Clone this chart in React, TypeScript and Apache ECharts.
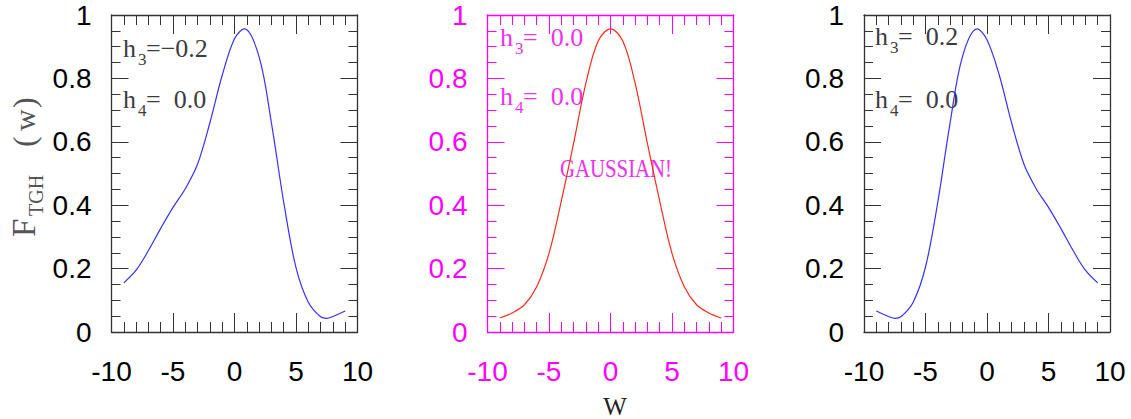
import { useEffect, useRef } from "react";
import * as echarts from "echarts";

// Tick labels
const X_TICKS = [-10, -5, 0, 5, 10];
const Y_TICKS = [0, 0.2, 0.4, 0.6, 0.8, 1];

// Left panel: h3 = -0.2, h4 = 0.0
const W_LEFT = [-9, -8, -7, -6, -5, -4, -3, -2, -1, 0, 0.8, 2, 3, 4, 5, 6, 7, 7.5, 8, 9];
const F_LEFT = [0.155, 0.195, 0.257, 0.327, 0.393, 0.452, 0.53, 0.66, 0.81, 0.925, 0.956, 0.868, 0.66, 0.41, 0.203, 0.094, 0.048, 0.043, 0.049, 0.066];

// Middle panel: h3 = 0.0, h4 = 0.0 (pure Gaussian)
const W_MID = [-9, -8, -7, -6, -5, -4, -3, -2, -1, 0, 1, 2, 3, 4, 5, 6, 7, 8, 9];
const F_MID = [0.044, 0.06, 0.086, 0.143, 0.248, 0.413, 0.595, 0.785, 0.918, 0.956, 0.918, 0.785, 0.595, 0.413, 0.248, 0.143, 0.086, 0.06, 0.044];

// Right panel: h3 = 0.2, h4 = 0.0
const W_RIGHT = [-9, -8, -7.5, -7, -6, -5, -4, -3, -2, -0.8, 0, 1, 2, 3, 4, 5, 6, 7, 8, 9];
const F_RIGHT = [0.066, 0.049, 0.043, 0.048, 0.094, 0.205, 0.41, 0.66, 0.868, 0.956, 0.922, 0.81, 0.66, 0.53, 0.452, 0.393, 0.327, 0.257, 0.195, 0.155];

const H3_LABELS = ["=\u22120.2", "=  0.0", "=  0.2"];
const H4_LABELS = ["=  0.0", "=  0.0", "=  0.0"];

const SANS = "'Liberation Sans', Arial, Helvetica, sans-serif";
const SERIF = "'Liberation Serif', 'Times New Roman', serif";

const GRID_TOP = 15;
const GRID_H = 317;
const GRID_W = 246;
const LABEL_SIZE = 28;

const PANELS = [
  { left: 111.5, axis: "#333333", label: "#000000", curve: "#3333ff", text: "#3c3c3c", h3Base: 57, h4Base: 108, textX: 123 },
  { left: 487.5, axis: "#ff00ff", label: "#ff00ff", curve: "#ff2a1a", text: "#f030f0", h3Base: 46, h4Base: 105, textX: 500 },
  { left: 864, axis: "#333333", label: "#000000", curve: "#3333ff", text: "#3c3c3c", h3Base: 45, h4Base: 108, textX: 875 },
];

const SERIES_DATA = [
  W_LEFT.map((w, i) => [w, F_LEFT[i]]),
  W_MID.map((w, i) => [w, F_MID[i]]),
  W_RIGHT.map((w, i) => [w, F_RIGHT[i]]),
];

// place text by its alphabetic baseline (zrender draws with a central baseline)
function textAt(x: number, baseline: number, text: string, size: number, fill: string, family: string, extra: any = {}) {
  return {
    type: "text",
    x,
    y: baseline - 0.34 * size,
    silent: true,
    ...extra,
    style: {
      text,
      fill,
      font: `${size}px ${family}`,
      align: extra.align || "left",
      textAlign: extra.align || "left",
      verticalAlign: "middle",
      textVerticalAlign: "middle",
    },
  };
}

function annotation(p: any, idx: number) {
  const items: any[] = [];
  const x = p.textX;
  const lines: [number, string, string][] = [
    [p.h3Base, "3", H3_LABELS[idx]],
    [p.h4Base, "4", H4_LABELS[idx]],
  ];
  for (const [base, sub, rest] of lines) {
    items.push(textAt(x, base, "h", 26, p.text, SERIF));
    items.push(textAt(x + 15, base + 8, sub, 17, p.text, SERIF));
    items.push(textAt(x + 23, base, rest, 26, p.text, SERIF));
  }
  return items;
}

function buildOption() {
  const grid: any[] = [];
  const xAxis: any[] = [];
  const yAxis: any[] = [];
  const series: any[] = [];

  PANELS.forEach((p, i) => {
    grid.push({ left: p.left, top: GRID_TOP, width: GRID_W, height: GRID_H, containLabel: false });

    const line = { show: true, onZero: false, lineStyle: { color: p.axis, width: 1.3 } };
    const xBase = {
      gridIndex: i,
      type: "value",
      min: X_TICKS[0],
      max: X_TICKS[X_TICKS.length - 1],
      interval: X_TICKS[1] - X_TICKS[0],
      axisLine: line,
      axisTick: { show: true, inside: true, length: 19, lineStyle: { color: p.axis, width: 1 } },
      minorTick: { show: true, splitNumber: 5, length: 10, lineStyle: { color: p.axis, width: 1 } },
      splitLine: { show: false },
      minorSplitLine: { show: false },
    };
    xAxis.push({
      ...xBase,
      position: "bottom",
      axisLabel: { show: true, margin: 25, color: p.label, fontSize: LABEL_SIZE, fontFamily: SANS },
    });
    xAxis.push({ ...xBase, position: "top", axisLabel: { show: false } });

    const yBase = {
      gridIndex: i,
      type: "value",
      min: Y_TICKS[0],
      max: Y_TICKS[Y_TICKS.length - 1],
      interval: Y_TICKS[1] - Y_TICKS[0],
      axisLine: line,
      axisTick: { show: true, inside: true, length: 17, lineStyle: { color: p.axis, width: 1 } },
      minorTick: { show: true, splitNumber: 4, length: 9, lineStyle: { color: p.axis, width: 1 } },
      splitLine: { show: false },
      minorSplitLine: { show: false },
    };
    yAxis.push({
      ...yBase,
      position: "left",
      axisLabel: {
        show: true,
        margin: 20,
        color: p.label,
        fontSize: LABEL_SIZE,
        fontFamily: SANS,
        padding: [11, 0, 0, 0],
      },
    });
    yAxis.push({ ...yBase, position: "right", axisLabel: { show: false } });

    series.push({
      type: "line",
      xAxisIndex: 2 * i,
      yAxisIndex: 2 * i,
      data: SERIES_DATA[i],
      smooth: 0.35,
      showSymbol: false,
      silent: true,
      lineStyle: { color: p.curve, width: 1.2 },
    });
  });

  const graphic: any[] = [];
  PANELS.forEach((p, i) => graphic.push(...annotation(p, i)));

  // middle panel note
  graphic.push(
    textAt(616, 177, "GAUSSIAN!", 26, "#f030f0", SERIF, { align: "center", scaleX: 0.8 })
  );

  // x axis name under the middle panel
  graphic.push(textAt(615, 415, "W", 25, "#222222", SERIF, { align: "center" }));

  // rotated y axis name: F_TGH (w)
  const titleColor = "#555555";
  graphic.push({
    type: "group",
    x: 35,
    y: 237,
    rotation: Math.PI / 2,
    silent: true,
    children: [
      textAt(0, 0, "F", 33, titleColor, SERIF),
      textAt(21, 8, "TGH", 20, titleColor, SERIF),
      textAt(90, 0, "(", 32, titleColor, SERIF),
      textAt(106, 0, "w", 30, titleColor, SERIF),
      textAt(129, 0, ")", 32, titleColor, SERIF),
    ],
  });

  return {
    animation: false,
    backgroundColor: "#ffffff",
    grid,
    xAxis,
    yAxis,
    series,
    graphic,
  };
}

export default function App() {
  const ref = useRef<HTMLDivElement>(null);

  useEffect(() => {
    if (!ref.current) return;
    const chart = echarts.init(ref.current, undefined, { renderer: "svg" });
    chart.setOption(buildOption() as any);
    return () => chart.dispose();
  }, []);

  return (
    <div
      ref={ref}
      style={{ position: "absolute", left: 0, top: 0, width: 1131, height: 419, background: "#fff" }}
    />
  );
}
